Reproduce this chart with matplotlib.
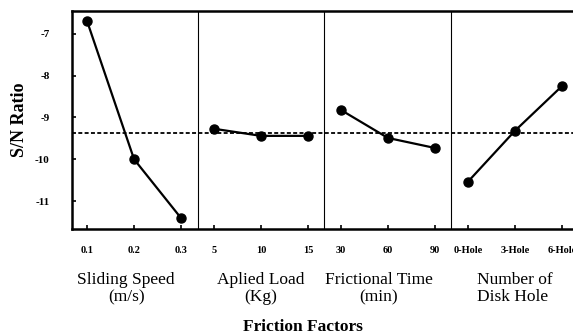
import matplotlib
matplotlib.use("Agg")
import matplotlib.pyplot as plt
import numpy as np

# S/N ratio for each factor level
factors = ["Sliding Speed\n(m/s)", "Aplied Load\n(Kg)", "Frictional Time\n(min)", "Number of\nDisk Hole"]
levels = [["0.1", "0.2", "0.3"], ["5", "10", "15"], ["30", "60", "90"], ["0-Hole", "3-Hole", "6-Hole"]]
speed_sn = [-6.69, -10.0, -11.41]
load_sn = [-9.27, -9.44, -9.44]
time_sn = [-8.82, -9.49, -9.73]
hole_sn = [-10.54, -9.32, -8.25]
mean_sn = -9.37
yticks = [-7, -8, -9, -10, -11]

plt.rcParams['font.family'] = ['Liberation Serif', 'DejaVu Serif']

fig = plt.figure(figsize=(5.73, 3.35), dpi=100)
ax = fig.add_axes([72/573, 1-229/335, 504/573, 218/335])

gap = 2.7
series = [speed_sn, load_sn, time_sn, hole_sn]
# nudges so the factor names sit like the original
name_dx = [-0.17, 0.0, -0.2, 0.0]
tick_pos = []
tick_lab = []
for g, vals in enumerate(series):
    xs = g*gap + np.arange(3)
    ax.plot(xs, vals, color='black', lw=1.6, marker='o', ms=6.5)
    tick_pos += list(xs)
    tick_lab += levels[g]
    if g > 0:
        ax.axvline(g*gap - 0.35, color='black', lw=0.8)
    xc = g*gap + 1 + name_dx[g]
    ma = 'left' if g == 3 else 'center'
    ax.text(xc, -0.195, factors[g], transform=ax.get_xaxis_transform(),
            ha='center', va='top', ma=ma, fontsize=12.5, linespacing=1.15)

ax.axhline(mean_sn, color='black', lw=1.3, ls=(0, (2.2, 1.3)))

ax.set_xlim(-0.32, 10.4)
ax.set_ylim(-11.67, -6.45)
ax.set_xticks(tick_pos, tick_lab)
ax.set_yticks(yticks, [str(v) for v in yticks])
ax.tick_params(direction='in', length=3, width=1.2)
ax.tick_params(axis='x', pad=12, labelsize=7.5)
ax.tick_params(axis='y', pad=16, labelsize=8)
for lab in ax.get_xticklabels() + ax.get_yticklabels():
    lab.set_fontweight('bold')
for s in ax.spines.values():
    s.set_linewidth(1.8)

ax.set_ylabel("S/N Ratio", fontsize=13, fontweight='bold')
ax.yaxis.set_label_coords(-0.088, 0.5)

fig.text(303/573, 1-327/335, "Friction Factors", ha='center', va='center',
         fontsize=12.5, fontweight='bold')

fig.savefig("out.png", dpi=100)
